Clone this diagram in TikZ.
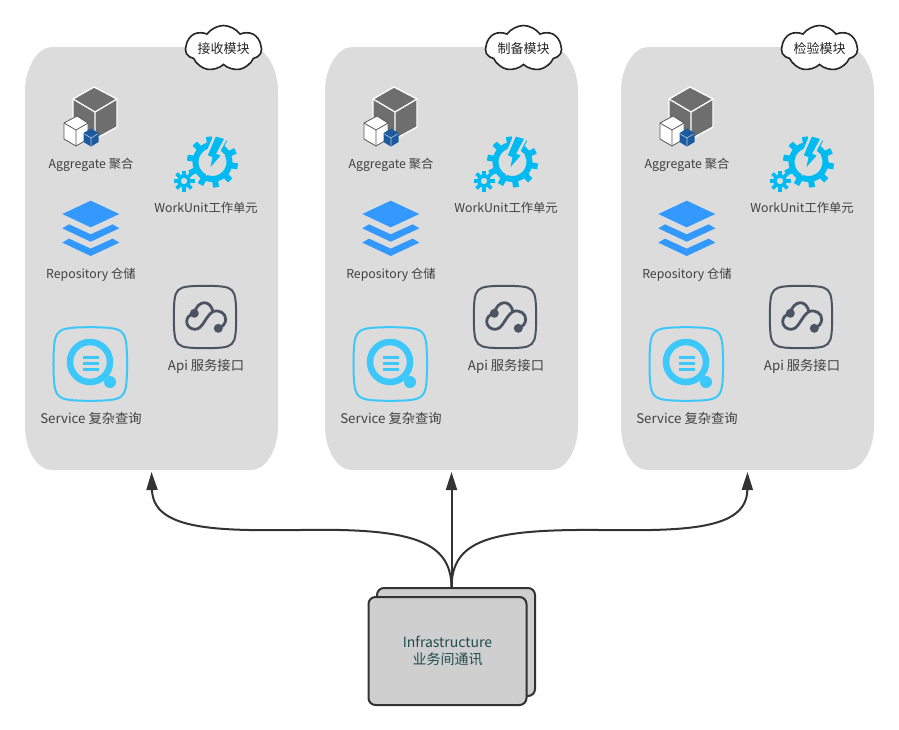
\documentclass[tikz,border=0pt]{standalone}
\usepackage{fontspec}
\setmainfont{Noto Sans CJK SC}
\usetikzlibrary{arrows.meta,shapes.symbols}

\definecolor{panelgray}{HTML}{DCDCDC}
\definecolor{infragray}{HTML}{CFCFCF}
\definecolor{linedark}{HTML}{333333}
\definecolor{labeldark}{HTML}{404040}
\definecolor{infrateal}{HTML}{1F4D4D}
\definecolor{cubegray}{HTML}{6E6E6E}
\definecolor{cubeblue}{HTML}{1C5A9E}
\definecolor{gearcyan}{HTML}{00BBF2}
\definecolor{layerblue}{HTML}{3399FF}
\definecolor{querycyan}{HTML}{3CC8FA}
\definecolor{apislate}{HTML}{4A5462}

\tikzset{
  panelbox/.style={rectangle, minimum width=253pt, minimum height=423pt, inner sep=0pt, outer sep=0pt},
  titlecloud/.style={cloud, cloud puffs=7, cloud puff arc=110, cloud ignores aspect, draw=black!85, line width=1.6pt, fill=white, minimum width=76pt, minimum height=46pt, inner sep=0pt, font=\fontsize{13}{15}\selectfont, text=black!85},
  iconlabel/.style={inner sep=0pt, font=\fontsize{12.3}{14}\selectfont, text=labeldark},
  biglabel/.style={inner sep=0pt, font=\fontsize{13.3}{15}\selectfont, text=labeldark},
  infrabox/.style={rectangle, draw=linedark, line width=2pt, fill=infragray, rounded corners=7pt, minimum width=158pt, minimum height=108pt, inner sep=0pt},
  linkline/.style={draw=linedark, line width=2pt, -{Triangle[length=18pt,width=11pt]}, shorten >=2pt},
  pics/panelshape/.style={code={
    \fill[panelgray] (52,47) -- (251,47) .. controls (266,47) and (278,69) .. (278,91)
      -- (278,426) .. controls (278,450) and (266,470) .. (251,470)
      -- (52,470) .. controls (37,470) and (25,450) .. (25,426)
      -- (25,91) .. controls (25,69) and (37,47) .. (52,47) -- cycle;
  }},
  pics/squircle/.style={code={
    \path[pic actions] (-.55,-1) .. controls (-.3,-1.03) and (.3,-1.03) .. (.55,-1)
      .. controls (.86,-.97) and (.97,-.86) .. (1,-.55)
      .. controls (1.03,-.3) and (1.03,.3) .. (1,.55)
      .. controls (.97,.86) and (.86,.97) .. (.55,1)
      .. controls (.3,1.03) and (-.3,1.03) .. (-.55,1)
      .. controls (-.86,.97) and (-.97,.86) .. (-1,.55)
      .. controls (-1.03,.3) and (-1.03,-.3) .. (-1,-.55)
      .. controls (-.97,-.86) and (-.86,-.97) .. (-.55,-1) -- cycle;
  }},
  pics/aggregateicon/.style={code={
    % big cube
    \draw[white, line width=1.3pt, fill=cubegray, line join=round]
      (94,87) -- (117,99) -- (117,127) -- (95,139) -- (73,127) -- (73,99) -- cycle;
    \draw[white, line width=1.3pt] (73,99) -- (95,112) -- (117,99) (95,112) -- (95,139);
    % small cube
    \draw[black!65, line width=.8pt, fill=white, line join=round]
      (77,116) -- (88,123) -- (88,139) -- (76,146) -- (64,139) -- (64,123) -- cycle;
    \draw[black!65, line width=.8pt] (64,123) -- (76,130) -- (88,123) (76,130) -- (76,146);
    % blue badge
    \fill[cubeblue] (91,128.5) -- (98.5,133) -- (98.5,142) -- (91,146.5) -- (83.5,142) -- (83.5,133) -- cycle;
    \draw[white!70!cubeblue, line width=.6pt] (84.5,134) -- (91,138) -- (97.5,134) (91,138) -- (91,145.5);
  }},
  pics/workuniticon/.style={code={
    % big gear
    \foreach \a in {0,36,...,324} {
      \fill[gearcyan, rotate around={\a+8:(212.5,162)}] (209.5,136.5) rectangle (215.5,145);
    }
    \draw[gearcyan, line width=6pt] (212.5,162) circle (17pt);
    % bolt
    \draw[panelgray, line width=2.5pt, fill=gearcyan, line join=miter]
      (215,135) -- (226,138) -- (218,153) -- (223,155) -- (208,172) -- (211,158) -- (206,156) -- cycle;
    % small gear
    \foreach \a in {0,45,...,315} {
      \fill[gearcyan, rotate around={\a:(184,181)}] (182.2,170.5) rectangle (185.8,175);
    }
    \draw[gearcyan, line width=3.6pt] (184,181) circle (5.2pt);
  }},
  pics/repositoryicon/.style={code={
    \fill[layerblue] (90.7,200.7) -- (119.3,214) -- (90.7,227.3) -- (62.3,214) -- cycle;
    \foreach \d in {0,14.3} {
      \fill[layerblue, yshift=-\d pt] (62.3,228.3) -- (69,224.3) -- (90.7,234.3) -- (112.7,224.3)
        -- (119.3,228.3) -- (90.7,241.7) -- cycle;
    }
  }},
  pics/apiicon/.style={code={
    \pic[draw=apislate, line width=2pt, scale=30.5] at (205,317) {squircle};
    \draw[apislate, line width=2.8pt, line cap=round]
      (194.3,313.3) .. controls (189,314.5) and (186.7,318) .. (186.7,321.7)
      .. controls (186.7,326) and (190.5,329.3) .. (195,329.3)
      .. controls (203,329.3) and (205,316.5) .. (213,311.5)
      .. controls (220,309.5) and (225.7,313.5) .. (225.7,319.3)
      .. controls (225.7,323.5) and (222.5,327) .. (218.3,328.3);
    \draw[apislate, line width=2.8pt, line cap=round]
      (194.3,313.3) .. controls (195.5,307) and (200,302.7) .. (204.3,302.7)
      .. controls (208.5,302.7) and (211.5,306) .. (213,311.5);
    \fill[apislate] (194.3,313.3) circle (4.5pt) (218.3,328.3) circle (4.5pt);
  }},
  pics/serviceicon/.style={code={
    \pic[draw=querycyan, line width=2pt, scale=36] at (90.3,364) {squircle};
    \draw[querycyan, line width=6.5pt] (90,362) circle (20pt);
    \draw[querycyan, line width=3pt] (83,357) -- (99,357) (83,363) -- (99,363) (83,369) -- (99,369);
    \draw[querycyan, line width=5pt] (104,376) -- (110,382);
    \fill[querycyan] (110,382) circle (6pt);
  }}
}

\begin{document}
\begin{tikzpicture}[x=1pt,y=-1pt]
  \useasboundingbox (0,0) rectangle (899,729);

  % three modules, same content
  \foreach \m/\dx/\modname in {1/0/接收模块,2/300/制备模块,3/596/检验模块} {
    \begin{scope}[xshift=\dx pt]
      \pic {panelshape};
      \node[panelbox] (panel\m) at (151.5,258.5) {};
      \node[titlecloud] (title\m) at (223.5,48.5) {\modname};
      \pic {aggregateicon};
      \node[iconlabel] (aggregate\m) at (91,164.5) {Aggregate 聚合};
      \pic {workuniticon};
      \node[iconlabel] (workunit\m) at (206,208) {WorkUnit工作单元};
      \pic {repositoryicon};
      \node[iconlabel] (repository\m) at (91,274.5) {Repository 仓储};
      \pic {apiicon};
      \node[biglabel] (api\m) at (206,366) {Api 服务接口};
      \pic {serviceicon};
      \node[biglabel] (service\m) at (91,418) {Service 复杂查询};
    \end{scope}
  }

  % infrastructure box, stacked
  \node[infrabox] (infraback) at (456,642) {};
  \node[infrabox, text=infrateal, align=center, font=\fontsize{14}{17}\selectfont] (infra) at (447.5,651) {Infrastructure\\业务间通讯};
  \coordinate (hub) at (451.5,588);
  \coordinate (leftmid) at (300,530);
  \coordinate (rightmid) at (600,530);

  \draw[linkline] (hub) -- (panel2.south);
  \draw[linkline] (hub) .. controls (451.5,540) and (410,528) .. (leftmid)
    .. controls (215,531) and (153,530) .. (panel1.south);
  \draw[linkline] (hub) .. controls (451.5,540) and (490,529) .. (rightmid)
    .. controls (685,531) and (747,530) .. (panel3.south);
\end{tikzpicture}
\end{document}
